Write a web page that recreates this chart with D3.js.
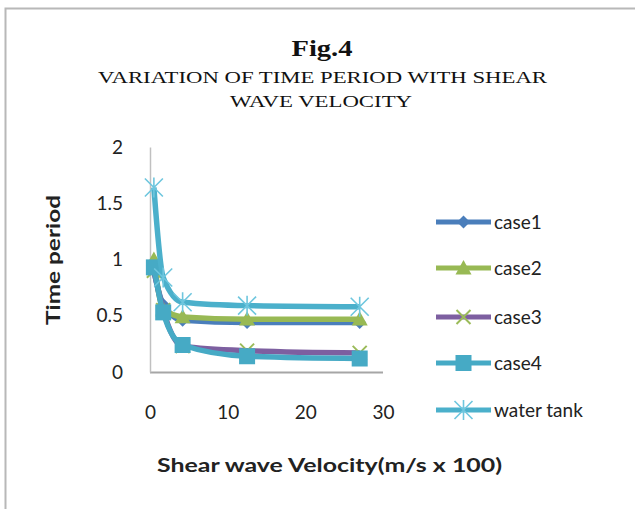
<!DOCTYPE html>
<html>
<head>
<meta charset="utf-8">
<script src="https://cdn.jsdelivr.net/npm/d3@7"></script>
<style>
html,body{margin:0;padding:0;background:#fff;}
svg{display:block;}
</style>
</head>
<body>
<script>
// ---- data ----
const velocity = [0.5, 1.7, 4.2, 12.5, 27];
const case1 = [0.90, 0.60, 0.46, 0.44, 0.44];
const case2 = [1.00, 0.56, 0.49, 0.47, 0.47];
const case3 = [0.90, 0.55, 0.23, 0.19, 0.17];
const case4 = [0.93, 0.53, 0.24, 0.14, 0.12];
const waterTank = [1.64, 0.84, 0.62, 0.59, 0.58];
const seriesNames = ["case1", "case2", "case3", "case4", "water tank"];
const xTicks = [0, 10, 20, 30];
const yTicks = [0, 0.5, 1, 1.5, 2];

const W = 635, H = 509;
const svg = d3.select("body").append("svg").attr("width", W).attr("height", H);

// frame
svg.append("path").attr("d", "M5.5,509 L5.5,8.5 L635,8.5")
  .attr("fill", "none").attr("stroke", "#b8b8b8").attr("stroke-width", 2);

// titles
const serif = "'Liberation Serif','Times New Roman',serif";
svg.append("text").attr("x", 322).attr("y", 56).attr("text-anchor", "middle")
  .attr("font-family", serif).attr("font-weight", "bold").attr("font-size", 24)
  .attr("textLength", 61).attr("lengthAdjust", "spacingAndGlyphs").attr("fill", "#111").text("Fig.4");
svg.append("text").attr("x", 322.5).attr("y", 83).attr("text-anchor", "middle")
  .attr("font-family", serif).attr("font-size", 17)
  .attr("textLength", 449).attr("lengthAdjust", "spacingAndGlyphs").attr("fill", "#111")
  .text("VARIATION OF TIME PERIOD WITH SHEAR");
svg.append("text").attr("x", 321).attr("y", 107).attr("text-anchor", "middle")
  .attr("font-family", serif).attr("font-size", 17)
  .attr("textLength", 182).attr("lengthAdjust", "spacingAndGlyphs").attr("fill", "#111")
  .text("WAVE VELOCITY");

// scales
const x = d3.scaleLinear().domain([0, 30]).range([150, 383]);
const y = d3.scaleLinear().domain([0, 2]).range([372, 147]);
const sans = "Lato,'Open Sans',sans-serif";

// axes
const xAxis = svg.append("g").attr("transform", `translate(0,${y(0)})`)
  .call(d3.axisBottom(x).tickValues(xTicks).tickSize(0).tickPadding(34));
xAxis.select(".domain").attr("stroke", "#a6a6a6").attr("stroke-width", 2);
xAxis.selectAll("text").attr("font-family", sans).attr("font-size", 19).attr("fill", "#222");
const yAxis = svg.append("g").attr("transform", `translate(${x(0)},0)`)
  .call(d3.axisLeft(y).tickValues(yTicks).tickSize(0).tickPadding(27).tickFormat(d3.format("")));
yAxis.select(".domain").attr("stroke", "#c0c0c0").attr("stroke-width", 1.5);
yAxis.selectAll("text").attr("font-family", sans).attr("font-size", 19).attr("fill", "#222");
xAxis.select(".domain").attr("d", `M${x(0)},0.5H${x(30)}`);

// axis titles
svg.append("text").attr("x", 329.5).attr("y", 472).attr("text-anchor", "middle")
  .attr("font-family", sans).attr("font-weight", "bold").attr("font-size", 19)
  .attr("textLength", 345).attr("lengthAdjust", "spacingAndGlyphs").attr("fill", "#222")
  .text("Shear wave Velocity(m/s x 100)");
svg.append("text").attr("transform", "translate(60,260) rotate(-90)").attr("text-anchor", "middle")
  .attr("font-family", sans).attr("font-weight", "bold").attr("font-size", 19)
  .attr("textLength", 130).attr("lengthAdjust", "spacingAndGlyphs").attr("fill", "#222")
  .text("Time period");

// series
const series = [
  {name: seriesNames[0], vals: case1, line: "#4a7ebb", mk: "diamond", mc: "#4a7ebb"},
  {name: seriesNames[1], vals: case2, line: "#98b954", mk: "triangle", mc: "#98b954"},
  {name: seriesNames[2], vals: case3, line: "#7d5fa0", mk: "x", mc: "#9bbb59"},
  {name: seriesNames[3], vals: case4, line: "#46aac5", mk: "square", mc: "#46aac5"},
  {name: seriesNames[4], vals: waterTank, line: "#4bb0cb", mk: "star", mc: "#6ec6de"}
];

const line = d3.line().x(d => x(d[0])).y(d => y(d[1])).curve(d3.curveMonotoneX);

function drawMarker(g, type, cx, cy, color, scale) {
  const s = scale || 1;
  if (type === "diamond") {
    const r = 6.5 * s;
    g.append("path").attr("d", `M${cx},${cy-r}L${cx+r},${cy}L${cx},${cy+r}L${cx-r},${cy}Z`).attr("fill", color);
  } else if (type === "triangle") {
    const r = 8 * s;
    g.append("path").attr("d", `M${cx},${cy-r}L${cx+r},${cy+r*0.8}L${cx-r},${cy+r*0.8}Z`).attr("fill", color);
  } else if (type === "square") {
    const r = 8 * s;
    g.append("rect").attr("x", cx - r).attr("y", cy - r).attr("width", 2*r).attr("height", 2*r).attr("fill", color);
  } else if (type === "x") {
    const r = 7 * s;
    g.append("path").attr("d", `M${cx-r},${cy-r}L${cx+r},${cy+r}M${cx-r},${cy+r}L${cx+r},${cy-r}`)
      .attr("stroke", color).attr("stroke-width", 2);
  } else if (type === "star") {
    const r = 9 * s;
    g.append("path").attr("d", `M${cx-r},${cy-r}L${cx+r},${cy+r}M${cx-r},${cy+r}L${cx+r},${cy-r}M${cx},${cy-r*1.1}L${cx},${cy+r*1.1}`)
      .attr("stroke", color).attr("stroke-width", 1.6);
  }
}

const plot = svg.append("g");
series.forEach(s => {
  const pts = velocity.map((v, i) => [v, s.vals[i]]);
  const g = plot.append("g");
  g.append("path").datum(pts).attr("d", line).attr("fill", "none")
    .attr("stroke", s.line).attr("stroke-width", 5.5).attr("stroke-linejoin", "round");
  pts.forEach(p => drawMarker(g, s.mk, x(p[0]), y(p[1]), s.mc));
});

// legend
const legendY = [222, 268, 317, 363, 410];
const leg = svg.append("g");
series.forEach((s, i) => {
  const cy = legendY[i];
  leg.append("line").attr("x1", 436).attr("x2", 491).attr("y1", cy).attr("y2", cy)
    .attr("stroke", s.line).attr("stroke-width", 5);
  drawMarker(leg, s.mk, 463.5, cy, s.mc);
  leg.append("text").attr("x", 494).attr("y", cy).attr("dy", "0.35em")
    .attr("font-family", sans).attr("font-size", 19).attr("fill", "#222").text(s.name);
});
</script>
</body>
</html>
